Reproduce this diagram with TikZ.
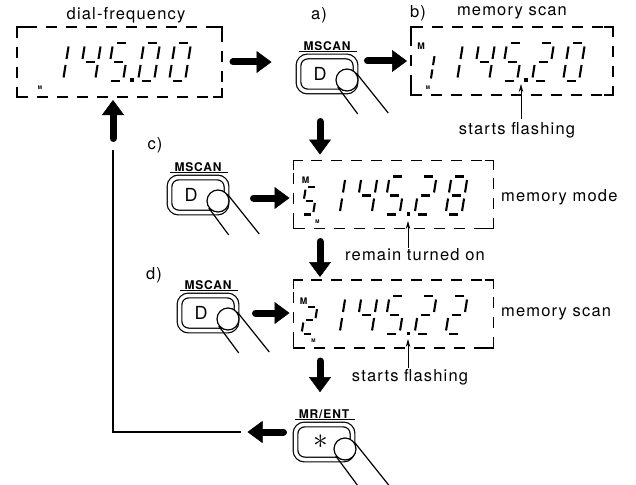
\documentclass[tikz,border=0pt]{standalone}
\usepackage{fontspec}
\setmainfont{TeX Gyre Heros}[LetterSpace=7]
\usepackage{tikz}
\usetikzlibrary{arrows.meta, positioning}

\tikzset{
  seg/.style={line width=2.1pt},
  sga/.style={insert path={(3.5,-38) -- (12.5,-38)}},
  sgb/.style={insert path={(16,-34.5) -- (16,-22)}},
  sgc/.style={insert path={(16,-16) -- (16,-3.5)}},
  sgd/.style={insert path={(3.5,0) -- (12.5,0)}},
  sge/.style={insert path={(0,-16) -- (0,-3.5)}},
  sgf/.style={insert path={(0,-34.5) -- (0,-22)}},
  sgg/.style={insert path={(3.5,-19) -- (12.5,-19)}},
  lcdbox/.style={draw, line width=1.8pt, dash pattern=on 11pt off 9pt, minimum width=200pt, minimum height=68pt, inner sep=0pt, outer sep=0pt},
  lcdline/.style={line width=1.8pt},
  keybtn/.style={draw, line width=1.2pt, double=white, double distance=3.5pt, rounded corners=9pt, minimum width=57pt, minimum height=35pt, inner sep=0pt, outer sep=0pt},
  keylabel/.style={font={\fontsize{12}{13}\selectfont\bfseries}, inner sep=1pt},
  keysym/.style={font={\fontsize{18}{20}\selectfont}, inner sep=0pt},
  finger/.style={circle, draw, fill=white, line width=1.2pt, minimum size=22pt, inner sep=0pt},
  thinline/.style={line width=1.2pt},
  lbl/.style={font={\fontsize{16.5}{19}\selectfont}, inner sep=1pt},
  bigarrow/.style={line width=7pt, line cap=round, -{Triangle[length=15pt, width=22pt, line width=0.5pt]}},
  pointer/.style={line width=0.9pt, -{Stealth[length=8pt, width=4.5pt]}},
  mmark/.style={font={\fontsize{9}{9}\selectfont\bfseries}, inner sep=0pt},
  tinymark/.style={font={\fontsize{5}{5}\selectfont\bfseries}, inner sep=0pt}
}

\def\sgzero{a,b,c,d,e,f}
\def\sgone{b,c}
\def\sgtwo{a,b,g,e,d}
\def\sgfour{f,g,b,c}
\def\sgfive{a,f,g,c,d}
\def\sgeight{a,b,c,d,e,f,g}

\newcommand{\segdigit}[4]{%
  \begin{scope}[shift={(#1,#2)}, xslant=0.16, scale=#3]
    \foreach \s in #4 {\edef\tmpseg{\noexpand\draw[seg, sg\s];}\tmpseg}
  \end{scope}}

\newcommand{\freqdigits}[5]{%
  \segdigit{30}{54}{1}{#1}\segdigit{62}{54}{1}{#2}\segdigit{90}{54}{1}{#3}%
  \fill (113,51.5) rectangle (116.5,55);%
  \segdigit{121}{54}{1}{#4}\segdigit{152}{54}{1}{#5}}

\newcommand{\lcdcorners}[1]{%
  \draw[lcdline] ([yshift=-9pt]#1.north west) -- (#1.north west) -- ([xshift=9pt]#1.north west);
  \draw[lcdline] ([xshift=-9pt]#1.north east) -- (#1.north east) -- ([yshift=-9pt]#1.north east);
  \draw[lcdline] ([yshift=9pt]#1.south west) -- (#1.south west) -- ([xshift=9pt]#1.south west);
  \draw[lcdline] ([xshift=-9pt]#1.south east) -- (#1.south east) -- ([yshift=9pt]#1.south east);}

\begin{document}
\begin{tikzpicture}[x=1pt, y=-1pt]
\useasboundingbox (0,0) rectangle (636,484);

% displays
\node[lcdbox, minimum width=205pt, minimum height=70pt] (disp1) at (119.5,62) {};
\node[lcdbox, minimum width=202pt, minimum height=68pt] (dispb) at (512,61) {};
\node[lcdbox] (dispc) at (393.5,194.5) {};
\node[lcdbox] (dispd) at (393.5,314) {};
\lcdcorners{disp1}
\lcdcorners{dispb}
\lcdcorners{dispc}
\lcdcorners{dispd}

\begin{scope}[shift={(disp1.north west)}]
  \freqdigits{\sgone}{\sgfour}{\sgfive}{\sgzero}{\sgzero}
  \node[tinymark] (tiny1) at (23,61) {M};
\end{scope}
\begin{scope}[shift={(dispb.north west)}]
  \freqdigits{\sgone}{\sgfour}{\sgfive}{\sgtwo}{\sgzero}
  \segdigit{8}{54}{0.72}{\sgone}
  \node[mmark] (memb) at (10,19) {M};
  \node[tinymark] (tinyb) at (17,61) {M};
\end{scope}
\begin{scope}[shift={(dispc.north west)}]
  \freqdigits{\sgone}{\sgfour}{\sgfive}{\sgtwo}{\sgeight}
  \segdigit{8}{54}{0.72}{\sgfive}
  \node[mmark] (memc) at (12,20) {M};
  \node[tinymark] (tinyc) at (24,61) {M};
\end{scope}
\begin{scope}[shift={(dispd.north west)}]
  \freqdigits{\sgone}{\sgfour}{\sgfive}{\sgtwo}{\sgtwo}
  \segdigit{8}{54}{0.72}{\sgtwo}
  \node[mmark] (memd) at (10,21) {M};
  \node[tinymark] (tinyd) at (20,61) {M};
\end{scope}

% keys
\node[keybtn] (btna) at (327,74) {};
\node[keysym] (keya) at ([xshift=-7pt]btna.center) {D};
\node[keylabel, above=5pt of btna] (laba) {MSCAN};
\draw[thinline] ([xshift=-3pt]laba.south west) -- ([xshift=5pt]laba.south east);
\node[finger] (fnga) at ([xshift=20pt,yshift=-6pt]btna.center) {};
\draw[thinline] (fnga.217) -- ++(20,27) (fnga.37) -- ++(32,40);

\node[keybtn] (btnc) at (198,195) {};
\node[keysym] (keyc) at ([xshift=-7pt]btnc.center) {D};
\node[keylabel, above=5pt of btnc] (labc) {MSCAN};
\draw[thinline] ([xshift=-3pt]labc.south west) -- ([xshift=5pt]labc.south east);
\node[finger] (fngc) at ([xshift=20pt,yshift=-6pt]btnc.center) {};
\draw[thinline] (fngc.217) -- ++(20,27) (fngc.37) -- ++(32,40);

\node[keybtn] (btnd) at (208,313) {};
\node[keysym] (keyd) at ([xshift=-7pt]btnd.center) {D};
\node[keylabel, above=5pt of btnd] (labd) {MSCAN};
\draw[thinline] ([xshift=-3pt]labd.south west) -- ([xshift=5pt]labd.south east);
\node[finger] (fngd) at ([xshift=20pt,yshift=-6pt]btnd.center) {};
\draw[thinline] (fngd.217) -- ++(20,27) (fngd.37) -- ++(32,40);

\node[keybtn] (btnmr) at (324,442) {};
\node[keysym] (keymr) at ([xshift=-3pt]btnmr.center) {\scalebox{1.7}{$\ast$}};
\node[keylabel, above=5pt of btnmr] (labmr) {MR/ENT};
\draw[thinline] ([xshift=-3pt]labmr.south west) -- ([xshift=5pt]labmr.south east);
\node[finger] (fngmr) at ([xshift=21pt,yshift=-7pt]btnmr.center) {};
\draw[thinline] (fngmr.217) -- ++(26,35) (fngmr.37) -- ++(36,45);

% texts
\node[lbl] (ttl1) at (126,15) {dial-frequency};
\node[lbl] (taga) at (319,15) {a)};
\node[lbl] (tagb) at (418,13) {b)};
\node[lbl] (ttlb) at (512,13) {memory scan};
\node[lbl] (tagc) at (155,145) {c)};
\node[lbl] (tagd) at (154,275) {d)};
\node[lbl, anchor=west] (ttlc) at (500,197) {memory mode};
\node[lbl, anchor=west] (ttld) at (500,314) {memory scan};
\node[lbl] (flb) at (517,130) {starts flashing};
\node[lbl] (remc) at (415,255) {remain turned on};
\node[lbl] (fld) at (410,377) {starts flashing};

\coordinate (tipb) at (521,84);
\coordinate (tipc) at (408,221);
\coordinate (tipd) at (408,339);
\draw[pointer] ([yshift=2pt]flb.north -| tipb) -- (tipb);
\draw[pointer] (remc.north -| tipc) -- (tipc);
\draw[pointer] (fld.north -| tipd) -- (tipd);

% flow
\draw[bigarrow, shorten <=11pt, shorten >=27pt] (disp1.east) -- (disp1.east -| btna.west);
\draw[bigarrow, shorten <=12pt, shorten >=4pt] (dispb.west -| btna.east) -- (dispb.west);
\draw[bigarrow, shorten <=30pt, shorten >=6pt] ([xshift=-7pt]btna.south) -- ([xshift=-7pt]btna.south |- dispc.north);
\draw[bigarrow, shorten <=27pt, shorten >=4pt] ([yshift=-3pt]btnc.east) -- ([yshift=-3pt]btnc.east -| dispc.west);
\draw[bigarrow, shorten <=13pt, shorten >=3pt] ([xshift=-7pt]btna.south |- dispc.south) -- ([xshift=-7pt]btna.south |- dispd.north);
\draw[bigarrow, shorten <=19pt, shorten >=4pt] (btnd.east) -- (btnd.east -| dispd.west);
\draw[bigarrow, shorten <=13pt, shorten >=16pt] ([xshift=-7pt]btna.south |- dispd.south) -- ([xshift=-7pt]btna.south |- labmr.north);

\coordinate (turn) at (113,432);
\draw[bigarrow, shorten <=12pt] ([yshift=10pt]btnmr.west) -- ++(-48pt,0);
\draw[thinline] ([xshift=-55pt,yshift=10pt]btnmr.west) -- (turn) -- ([yshift=-53pt]turn |- disp1.south);
\draw[bigarrow, shorten <=3.5pt, shorten >=3pt] ([yshift=-45pt]turn |- disp1.south) -- (turn |- disp1.south);
\end{tikzpicture}
\end{document}
